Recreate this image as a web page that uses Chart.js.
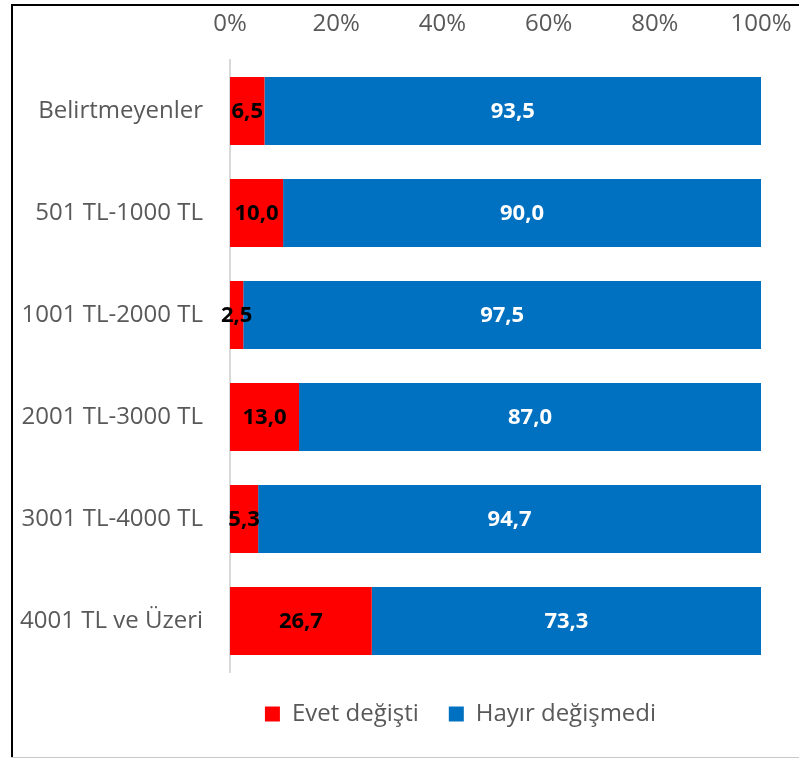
<!DOCTYPE html>
<html lang="tr">
<head>
    <meta charset="UTF-8">
    <title>Gelir gruplarına göre değişim</title>
    <script src="https://cdn.jsdelivr.net/npm/chart.js"></script>
    <style>
        html, body { margin: 0; padding: 0; background: #fff; }
        canvas { display: block; }
    </style>
</head>
<body>
<canvas id="chart" width="799" height="760"></canvas>
<script>
    // data
    const categories = ['Belirtmeyenler', '501 TL-1000 TL', '1001 TL-2000 TL', '2001 TL-3000 TL', '3001 TL-4000 TL', '4001 TL ve Üzeri'];
    const evet = [6.5, 10.0, 2.5, 13.0, 5.3, 26.7];
    const hayir = [93.5, 90.0, 97.5, 87.0, 94.7, 73.3];
    const seriesNames = ['Evet değişti', 'Hayır değişmedi'];
    const xTicks = [0, 20, 40, 60, 80, 100];

    const FONT = "'Open Sans', 'Liberation Sans', sans-serif";

    // values printed on the bars, with comma decimals
    const barLabels = {
        id: 'barLabels',
        afterDatasetsDraw(chart) {
            const ctx = chart.ctx;
            ctx.save();
            ctx.font = 'bold 22px ' + FONT;
            ctx.textAlign = 'center';
            ctx.textBaseline = 'middle';
            chart.data.datasets.forEach((ds, i) => {
                const meta = chart.getDatasetMeta(i);
                ctx.fillStyle = i === 0 ? '#000000' : '#ffffff';
                meta.data.forEach((bar, j) => {
                    const p = bar.getCenterPoint();
                    ctx.fillText(ds.data[j].toFixed(1).replace('.', ','), p.x, p.y + 1);
                });
            });
            ctx.restore();
        }
    };

    // outer frame of the chart object (left/top black, bottom grey)
    const frame = {
        id: 'frame',
        beforeDraw(chart) {
            const ctx = chart.ctx;
            ctx.save();
            ctx.fillStyle = '#000000';
            ctx.fillRect(11, 4, 788, 2);
            ctx.fillRect(11, 4, 2, 754);
            ctx.fillStyle = '#c8c8c8';
            ctx.fillRect(11, 757, 788, 1);
            ctx.restore();
        },
        // legend sits right of centre in the reference
        afterLayout(chart) {
            chart.legend.left += 80;
            chart.legend.right += 80;
        }
    };

    new Chart(document.getElementById('chart'), {
        type: 'bar',
        data: {
            labels: categories,
            datasets: [
                { label: seriesNames[0], data: evet, backgroundColor: '#ff0000' },
                { label: seriesNames[1], data: hayir, backgroundColor: '#0070c0' }
            ]
        },
        options: {
            indexAxis: 'y',
            responsive: false,
            animation: false,
            layout: { padding: { left: 0, right: 38, top: 0, bottom: 24 } },
            datasets: { bar: { categoryPercentage: 0.667, barPercentage: 1 } },
            scales: {
                x: {
                    position: 'top',
                    stacked: true,
                    min: 0,
                    max: 100,
                    afterBuildTicks: s => { s.ticks = xTicks.map(v => ({ value: v })); },
                    afterFit: s => { s.height = 60; s.paddingLeft = 0; s.paddingRight = 0; },
                    grid: { display: false },
                    border: { display: false },
                    ticks: {
                        padding: 13,
                        color: '#595959',
                        font: { family: FONT, size: 24 },
                        callback: v => v + '%'
                    }
                },
                y: {
                    stacked: true,
                    afterFit: s => { s.width = 230; },
                    grid: { display: false },
                    border: { display: true, color: '#d9d9d9', width: 2 },
                    ticks: {
                        padding: 19,
                        color: '#595959',
                        font: { family: FONT, size: 24 }
                    }
                }
            },
            plugins: {
                legend: {
                    position: 'bottom',
                    labels: {
                        boxWidth: 15,
                        boxHeight: 15,
                        padding: 30,
                        color: '#595959',
                        font: { family: FONT, size: 24 }
                    }
                },
                tooltip: { enabled: false }
            }
        },
        plugins: [barLabels, frame]
    });
</script>
</body>
</html>
